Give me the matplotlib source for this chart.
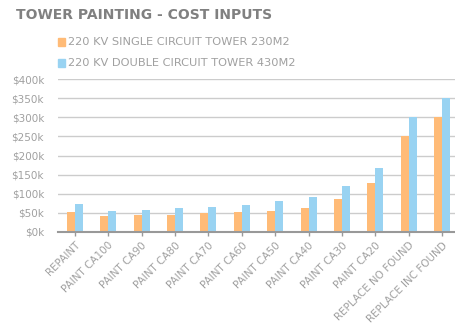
import numpy as np
import matplotlib
matplotlib.use("Agg")
import matplotlib.pyplot as plt
from matplotlib.ticker import FuncFormatter

# --- Dados ---
categories = [
    "REPAINT", "PAINT CA100", "PAINT CA90", "PAINT CA80", "PAINT CA70",
    "PAINT CA60", "PAINT CA50", "PAINT CA40", "PAINT CA30", "PAINT CA20",
    "REPLACE NO FOUND", "REPLACE INC FOUND",
]
single_230 = [51, 41, 43, 45, 48, 51, 55, 61, 86, 127, 250, 300]
double_430 = [72, 55, 58, 62, 66, 71, 80, 91, 121, 166, 300, 350]
series_names = [
    "220 KV SINGLE CIRCUIT TOWER 230M2",
    "220 KV DOUBLE CIRCUIT TOWER 430M2",
]
y_ticks = [0, 50, 100, 150, 200, 250, 300, 350, 400]

orange = "#FFBB77"
blue = "#99D3F2"
txt = "#a0a0a0"

fig = plt.figure(figsize=(4.56, 3.3), dpi=100)
# eixo passa um pouco da borda direita, como no original
ax = fig.add_axes([58 / 456, 1 - 231.7 / 330, 401 / 456, 152.4 / 330])

x = np.arange(len(categories))
w = 0.24
ax.bar(x - w / 2, single_230, w, color=orange, zorder=3)
ax.bar(x + w / 2, double_430, w, color=blue, zorder=3)

ax.set_xlim(-0.5, len(categories) - 0.5)
ax.set_ylim(0, 400)
ax.set_yticks(y_ticks)
ax.yaxis.set_major_formatter(FuncFormatter(lambda v, p: f"${int(v)}k"))
ax.grid(axis="y", color="#cccccc", linewidth=1, zorder=0)
for s in ["top", "right", "left"]:
    ax.spines[s].set_visible(False)
ax.spines["bottom"].set_color("#999999")
ax.spines["bottom"].set_linewidth(1.5)
ax.spines["bottom"].set_zorder(4)

ax.set_xticks(x)
ax.set_xticklabels(categories, rotation=45, ha="right", rotation_mode="anchor")
ax.tick_params(axis="x", colors="#999999", length=3, width=1, labelsize=7.5,
               labelcolor=txt, pad=3)
ax.tick_params(axis="y", length=0, labelsize=7.5, labelcolor=txt, pad=10)

fig.text(16 / 456, 1 - 15 / 330, "TOWER PAINTING - COST INPUTS", fontsize=10,
         fontweight="bold", color="#808080", va="center", ha="left")
for i, (name, col) in enumerate(zip(series_names, [orange, blue])):
    yy = 1 - (42 + i * 21) / 330
    fig.patches.append(plt.Rectangle((58 / 456, yy - 3.5 / 330), 7 / 456, 7 / 330,
                                     transform=fig.transFigure, color=col, figure=fig))
    fig.text(68 / 456, yy, name, fontsize=8.2, color=txt, va="center", ha="left")

plt.savefig("out.png", dpi=100)
